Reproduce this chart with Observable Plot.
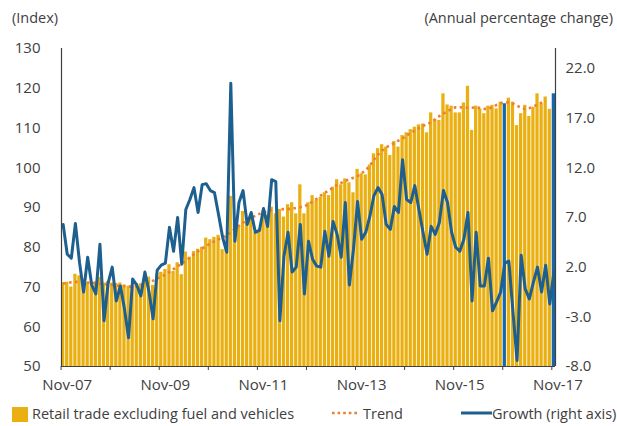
<!DOCTYPE html>
<html>
<head>
<meta charset="utf-8">
<script src="https://cdn.jsdelivr.net/npm/d3@7"></script>
<script src="https://cdn.jsdelivr.net/npm/@observablehq/plot@0.6"></script>
<style>
  body { margin: 0; background: #fff; font-family: "Open Sans", Lato, sans-serif; color: #404040; }
  #wrap { position: relative; width: 617px; height: 426px; overflow: hidden; }
  .t { position: absolute; font-size: 14.5px; line-height: 18px; white-space: nowrap; }
  #chart { position: absolute; left: 0; top: 0; }
</style>
</head>
<body>
<div id="wrap">
  <div id="chart"></div>
  <div class="t" style="left:12px;top:9px;">(Index)</div>
  <div class="t" style="right:4px;top:9px;">(Annual percentage change)</div>
  <div id="legend"></div>
</div>
<script>
// ---- data ----
const months = d3.utcMonth.range(new Date(Date.UTC(2007, 10, 1)), new Date(Date.UTC(2017, 11, 1))).map(d3.utcFormat("%b-%y"));

const retail = [
  71.1, 71.2, 70.0, 73.2, 72.8, 71.5, 71.1, 71.0, 71.3, 72.4,
  71.0, 71.4, 71.0, 70.9, 71.0, 70.5, 70.2, 70.0, 70.9, 70.8,
  72.1, 72.5, 70.4, 73.3, 73.7, 74.4, 75.6, 73.9, 76.1, 73.1,
  78.8, 77.5, 78.9, 79.5, 80.0, 82.3, 81.9, 82.5, 83.0, 79.4,
  80.5, 92.8, 85.9, 85.5, 89.0, 86.3, 88.4, 83.6, 84.5, 89.2,
  88.0, 90.1, 88.4, 89.5, 87.6, 90.7, 91.2, 88.4, 95.7, 88.4,
  91.2, 93.0, 91.8, 92.6, 93.7, 93.0, 95.1, 97.0, 95.7, 97.2,
  96.2, 93.7, 99.6, 98.5, 98.2, 100.7, 103.5, 104.8, 105.8, 105.2,
  103.1, 106.6, 105.2, 108.1, 108.8, 109.6, 110.2, 110.8, 111.0, 108.8,
  113.8, 112.1, 111.9, 118.6, 115.8, 115.5, 113.8, 113.8, 116.3, 120.5,
  109.4, 115.5, 114.8, 113.6, 115.5, 115.7, 114.8, 116.5, 116.1, 117.5,
  116.5, 110.6, 113.6, 115.7, 112.9, 115.2, 118.6, 116.1, 117.8, 114.7,
  118.6
];

const trend = [
  70.9, 71.0, 71.2, 71.3, 71.3, 71.2, 71.1, 71.0, 70.9, 70.8,
  70.7, 70.6, 70.5, 70.4, 70.3, 70.2, 70.1, 70.1, 70.2, 70.5,
  70.8, 71.2, 71.6, 72.1, 72.6, 73.1, 73.8, 74.5, 75.2, 75.8,
  76.6, 77.4, 78.2, 79.0, 79.7, 80.3, 80.9, 81.5, 82.0, 82.4,
  83.0, 83.8, 84.6, 85.4, 86.2, 86.8, 87.4, 87.9, 88.4, 88.8,
  89.1, 89.4, 89.5, 89.5, 89.6, 89.6, 89.7, 89.9, 90.1, 90.3,
  90.8, 91.5, 92.2, 93.0, 93.7, 94.3, 95.0, 95.7, 96.2, 96.7,
  97.1, 97.5, 97.9, 98.6, 99.4, 100.5, 102.0, 103.3, 104.3, 105.1,
  105.7, 106.2, 106.8, 107.4, 108.1, 108.8, 109.4, 110.0, 110.5, 111.0,
  111.4, 112.2, 113.0, 113.6, 114.2, 114.8, 115.2, 115.2, 115.1, 115.1,
  115.1, 115.2, 115.0, 114.8, 114.8, 115.3, 115.8, 116.2, 116.5, 116.4,
  116.1, 115.6, 115.1, 114.8, 115.0, 115.4, 115.9, 116.4, 116.7, null,
  null
];

const growth = [
  6.3, 3.3, 2.9, 6.4, 2.5, -0.5, 3.0, 0.2, -0.7, 4.3,
  -3.4, 0.4, 2.0, -1.4, 0.1, -2.2, -5.1, 0.8, 0.2, -0.9,
  1.5, -0.5, -3.2, 1.7, 2.2, 2.4, 6.0, 3.6, 7.0, 2.3,
  7.8, 8.8, 10.0, 7.5, 10.3, 10.4, 9.7, 9.5, 7.3, 5.0,
  3.5, 20.5, 4.6, 8.5, 9.7, 6.3, 7.5, 5.5, 5.7, 7.9,
  6.1, 10.8, 10.6, -3.4, 3.1, 5.5, 1.5, 2.0, 6.3, -0.7,
  4.6, 2.8, 2.1, 2.0, 5.6, 3.1, 6.6, 5.3, 3.0, 8.5,
  0.2, 3.8, 8.6, 4.8, 5.5, 7.1, 9.2, 10.0, 9.3, 6.3,
  5.8, 8.1, 7.5, 12.8, 8.8, 8.5, 10.2, 7.8, 5.5, 3.3,
  6.1, 5.3, 6.5, 9.7, 8.5, 5.5, 4.0, 3.6, 4.8, 7.5,
  -1.4, 5.5, 0.1, 0.1, 2.9, -2.4, -1.5, -0.5, 2.4, 2.6,
  -2.5, -7.4, 3.2, -0.2, -1.2, 0.5, 2.0, -0.5, 2.2, -1.7,
  1.5
];

const highlighted = ["Nov-16", "Nov-17"];
const yearTicks = ["Nov-07","Nov-08","Nov-09","Nov-10","Nov-11","Nov-12","Nov-13","Nov-14","Nov-15","Nov-16","Nov-17"];
const xTickLabels = ["Nov-07","Nov-09","Nov-11","Nov-13","Nov-15","Nov-17"];
const leftTicks = [50, 60, 70, 80, 90, 100, 110, 120, 130];
const rightTicks = [-8, -3, 2, 7, 12, 17, 22];
const leftDomain = [50, 130];
const rightDomain = [-8, 24];

const gold = "#EAB012", barBlue = "#1767AB", lineBlue = "#1D5F8F", orange = "#EE7D37", axisColor = "#404040";

const k = (leftDomain[1] - leftDomain[0]) / (rightDomain[1] - rightDomain[0]);
const toLeft = g => leftDomain[0] + (g - rightDomain[0]) * k;
const fromLeft = v => rightDomain[0] + (v - leftDomain[0]) / k;

const data = months.map((m, i) => ({month: m, retail: retail[i], trend: trend[i], growth: growth[i], hl: highlighted.includes(m)}));

const W = 617, H = 395, mL = 61, mR = 62, mT = 48, mB = 29;
const pad = 0.2;
const step = (W - mL - mR) / (months.length - pad);

const chart = Plot.plot({
  width: W, height: H,
  marginLeft: mL, marginRight: mR, marginTop: mT, marginBottom: mB,
  style: {fontFamily: "'Open Sans', Lato, sans-serif", fontSize: "15px", color: axisColor, background: "transparent"},
  x: {type: "band", domain: months, paddingInner: pad, paddingOuter: 0, round: false, axis: null},
  y: {domain: leftDomain, axis: null},
  marks: [
    Plot.barY(data.filter(d => !d.hl), {x: "month", y1: leftDomain[0], y2: "retail", fill: gold}),
    Plot.barY(data.filter(d => d.hl), {x: "month", y1: leftDomain[0], y2: "retail", fill: barBlue}),
    Plot.line(data.filter(d => d.trend != null), {x: "month", y: "trend", stroke: orange, strokeWidth: 2.6, strokeDasharray: "2.6 3.4", strokeLinecap: "butt"}),
    Plot.line(data, {x: "month", y: d => toLeft(d.growth), stroke: lineBlue, strokeWidth: 3, strokeLinejoin: "round"}),
    Plot.ruleY([leftDomain[0]], {stroke: axisColor, strokeWidth: 1}),
    Plot.ruleX([months[0]], {stroke: axisColor, strokeWidth: 1.2, dx: -step * (1 - pad) / 2}),
    Plot.ruleX([months[months.length - 1]], {stroke: axisColor, strokeWidth: 1.2, dx: step * (1 - pad) / 2}),
    Plot.axisX({ticks: yearTicks, tickSize: 4, tickFormat: () => "", label: null, dx: -step / 2, stroke: axisColor}),
    Plot.axisX({ticks: xTickLabels, tickSize: 0, tickPadding: 13, label: null, dx: 4, fill: axisColor}),
    Plot.axisY({anchor: "left", ticks: leftTicks, tickSize: 0, tickPadding: 21, label: null, fill: axisColor}),
    Plot.axisY({anchor: "right", ticks: rightTicks.map(toLeft), tickFormat: v => fromLeft(v).toFixed(1), tickSize: 0, tickPadding: 10, label: null, fill: axisColor})
  ]
});
document.getElementById("chart").appendChild(chart);

// ---- legend ----
const legend = document.getElementById("legend");
legend.innerHTML = `
  <div style="position:absolute;left:12px;top:407px;width:16px;height:15px;background:${gold}"></div>
  <div class="t" style="left:32px;top:405px;">Retail trade excluding fuel and vehicles</div>
  <svg style="position:absolute;left:332px;top:405px" width="30" height="16"><line x1="0" y1="8" x2="28" y2="8" stroke="${orange}" stroke-width="2.6" stroke-dasharray="2.6 3"/></svg>
  <div class="t" style="left:363px;top:405px;">Trend</div>
  <svg style="position:absolute;left:461px;top:405px" width="32" height="16"><line x1="0" y1="8" x2="31" y2="8" stroke="${lineBlue}" stroke-width="3"/></svg>
  <div class="t" style="left:492px;top:405px;">Growth (right axis)</div>
`;
</script>
</body>
</html>
